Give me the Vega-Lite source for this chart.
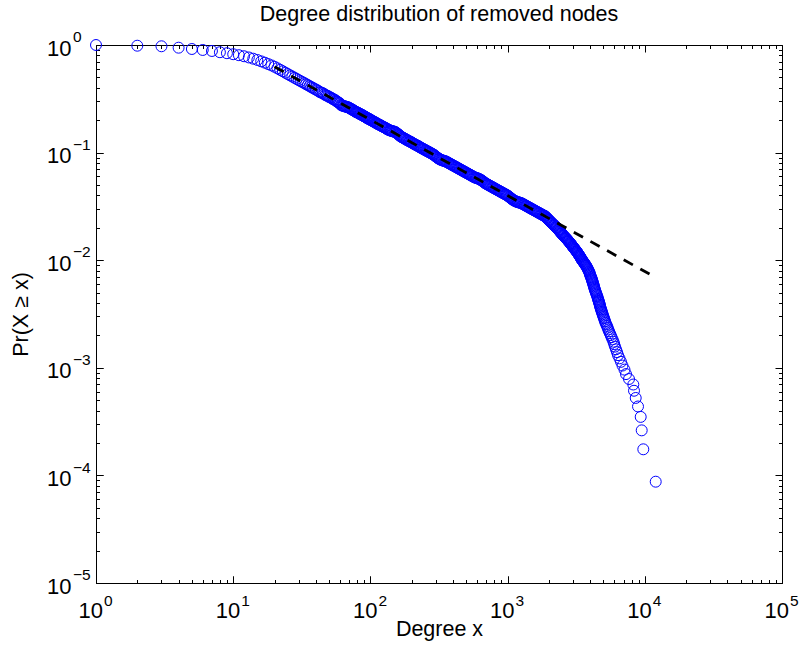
{
  "$schema": "https://vega.github.io/schema/vega-lite/v6.json",
  "width": 686,
  "height": 538,
  "autosize": {"type": "none"},
  "padding": {"left": 96, "top": 45, "right": 19, "bottom": 70},
  "background": "white",
  "title": {
    "text": "Degree distribution of removed nodes",
    "font": "Liberation Sans",
    "fontSize": 21.5,
    "fontWeight": "normal",
    "color": "black",
    "anchor": "middle",
    "frame": "group",
    "baseline": "alphabetic",
    "offset": -13
  },
  "config": {
    "font": "Liberation Sans",
    "view": {"stroke": null}
  },
  "datasets": {
    "ccdf": [
      {"degree": 1, "p": 1},
      {"degree": 2, "p": 0.985},
      {"degree": 3, "p": 0.973},
      {"degree": 4, "p": 0.944},
      {"degree": 5, "p": 0.918},
      {"degree": 6, "p": 0.899},
      {"degree": 7, "p": 0.88},
      {"degree": 8, "p": 0.857},
      {"degree": 9, "p": 0.839},
      {"degree": 10, "p": 0.821},
      {"degree": 11, "p": 0.804},
      {"degree": 12, "p": 0.786},
      {"degree": 13, "p": 0.766},
      {"degree": 14, "p": 0.746},
      {"degree": 15, "p": 0.726},
      {"degree": 16, "p": 0.705},
      {"degree": 17, "p": 0.685},
      {"degree": 18, "p": 0.665},
      {"degree": 19, "p": 0.646},
      {"degree": 20, "p": 0.628},
      {"degree": 21, "p": 0.607},
      {"degree": 22, "p": 0.588},
      {"degree": 23, "p": 0.57},
      {"degree": 24, "p": 0.553},
      {"degree": 25, "p": 0.537},
      {"degree": 26, "p": 0.522},
      {"degree": 27, "p": 0.509},
      {"degree": 28, "p": 0.496},
      {"degree": 29, "p": 0.484},
      {"degree": 30, "p": 0.472},
      {"degree": 31, "p": 0.461},
      {"degree": 32, "p": 0.451},
      {"degree": 33, "p": 0.442},
      {"degree": 34, "p": 0.432},
      {"degree": 35, "p": 0.424},
      {"degree": 36, "p": 0.415},
      {"degree": 37, "p": 0.407},
      {"degree": 38, "p": 0.4},
      {"degree": 39, "p": 0.3925},
      {"degree": 40, "p": 0.3855},
      {"degree": 41, "p": 0.3791},
      {"degree": 42, "p": 0.3715},
      {"degree": 43, "p": 0.364},
      {"degree": 44, "p": 0.3603},
      {"degree": 45, "p": 0.3567},
      {"degree": 46, "p": 0.3495},
      {"degree": 47, "p": 0.3425},
      {"degree": 48, "p": 0.339},
      {"degree": 49, "p": 0.3356},
      {"degree": 50, "p": 0.3289},
      {"degree": 51, "p": 0.3256},
      {"degree": 52, "p": 0.3223},
      {"degree": 53, "p": 0.3158},
      {"degree": 54, "p": 0.3126},
      {"degree": 55, "p": 0.3095},
      {"degree": 56, "p": 0.3033},
      {"degree": 57, "p": 0.2988},
      {"degree": 58, "p": 0.2944},
      {"degree": 59, "p": 0.2902},
      {"degree": 60, "p": 0.286},
      {"degree": 61, "p": 0.2776},
      {"degree": 62, "p": 0.2748},
      {"degree": 63, "p": 0.2721},
      {"degree": 64, "p": 0.2706},
      {"degree": 65, "p": 0.2691},
      {"degree": 66, "p": 0.2676},
      {"degree": 67, "p": 0.2661},
      {"degree": 68, "p": 0.2646},
      {"degree": 69, "p": 0.2631},
      {"degree": 70, "p": 0.2604},
      {"degree": 71, "p": 0.2578},
      {"degree": 72, "p": 0.2552},
      {"degree": 73, "p": 0.2526},
      {"degree": 74, "p": 0.2501},
      {"degree": 75, "p": 0.2476},
      {"degree": 76, "p": 0.2451},
      {"degree": 77, "p": 0.2426},
      {"degree": 78, "p": 0.2401},
      {"degree": 79, "p": 0.2377},
      {"degree": 80, "p": 0.2361},
      {"degree": 81, "p": 0.2345},
      {"degree": 82, "p": 0.2329},
      {"degree": 83, "p": 0.2306},
      {"degree": 84, "p": 0.2283},
      {"degree": 85, "p": 0.2268},
      {"degree": 86, "p": 0.2252},
      {"degree": 87, "p": 0.2237},
      {"degree": 88, "p": 0.2214},
      {"degree": 89, "p": 0.2192},
      {"degree": 90, "p": 0.2177},
      {"degree": 91, "p": 0.2163},
      {"degree": 92, "p": 0.2148},
      {"degree": 93, "p": 0.2126},
      {"degree": 94, "p": 0.2105},
      {"degree": 95, "p": 0.2091},
      {"degree": 96, "p": 0.2076},
      {"degree": 97, "p": 0.2062},
      {"degree": 98, "p": 0.2048},
      {"degree": 99, "p": 0.2035},
      {"degree": 100, "p": 0.2021},
      {"degree": 101, "p": 0.2001},
      {"degree": 103, "p": 0.198},
      {"degree": 104, "p": 0.196},
      {"degree": 106, "p": 0.194},
      {"degree": 107, "p": 0.1921},
      {"degree": 109, "p": 0.1902},
      {"degree": 110, "p": 0.1883},
      {"degree": 112, "p": 0.1863},
      {"degree": 113, "p": 0.1845},
      {"degree": 115, "p": 0.1826},
      {"degree": 117, "p": 0.1808},
      {"degree": 119, "p": 0.1789},
      {"degree": 120, "p": 0.1771},
      {"degree": 122, "p": 0.1753},
      {"degree": 124, "p": 0.1736},
      {"degree": 126, "p": 0.1718},
      {"degree": 128, "p": 0.1701},
      {"degree": 130, "p": 0.1683},
      {"degree": 131, "p": 0.1667},
      {"degree": 133, "p": 0.165},
      {"degree": 135, "p": 0.1634},
      {"degree": 137, "p": 0.1617},
      {"degree": 139, "p": 0.1608},
      {"degree": 141, "p": 0.1598},
      {"degree": 143, "p": 0.1589},
      {"degree": 145, "p": 0.158},
      {"degree": 147, "p": 0.1572},
      {"degree": 150, "p": 0.1564},
      {"degree": 152, "p": 0.1549},
      {"degree": 154, "p": 0.1533},
      {"degree": 156, "p": 0.151},
      {"degree": 159, "p": 0.1487},
      {"degree": 161, "p": 0.1466},
      {"degree": 163, "p": 0.1444},
      {"degree": 165, "p": 0.1424},
      {"degree": 168, "p": 0.1403},
      {"degree": 170, "p": 0.1389},
      {"degree": 173, "p": 0.1374},
      {"degree": 175, "p": 0.1361},
      {"degree": 178, "p": 0.1347},
      {"degree": 180, "p": 0.1334},
      {"degree": 183, "p": 0.132},
      {"degree": 185, "p": 0.1307},
      {"degree": 188, "p": 0.1293},
      {"degree": 191, "p": 0.128},
      {"degree": 194, "p": 0.1267},
      {"degree": 197, "p": 0.1255},
      {"degree": 200, "p": 0.1242},
      {"degree": 202, "p": 0.123},
      {"degree": 205, "p": 0.1217},
      {"degree": 208, "p": 0.1205},
      {"degree": 211, "p": 0.1192},
      {"degree": 214, "p": 0.118},
      {"degree": 218, "p": 0.1168},
      {"degree": 221, "p": 0.1157},
      {"degree": 224, "p": 0.1145},
      {"degree": 227, "p": 0.1134},
      {"degree": 230, "p": 0.1122},
      {"degree": 233, "p": 0.1111},
      {"degree": 237, "p": 0.1099},
      {"degree": 240, "p": 0.1088},
      {"degree": 244, "p": 0.1077},
      {"degree": 247, "p": 0.1067},
      {"degree": 251, "p": 0.1056},
      {"degree": 254, "p": 0.1046},
      {"degree": 258, "p": 0.1035},
      {"degree": 262, "p": 0.1025},
      {"degree": 266, "p": 0.1014},
      {"degree": 270, "p": 0.1004},
      {"degree": 274, "p": 0.09933},
      {"degree": 278, "p": 0.09833},
      {"degree": 282, "p": 0.09733},
      {"degree": 286, "p": 0.09636},
      {"degree": 290, "p": 0.09538},
      {"degree": 294, "p": 0.09401},
      {"degree": 298, "p": 0.09263},
      {"degree": 302, "p": 0.09129},
      {"degree": 307, "p": 0.08994},
      {"degree": 311, "p": 0.08882},
      {"degree": 316, "p": 0.08769},
      {"degree": 320, "p": 0.08681},
      {"degree": 325, "p": 0.08593},
      {"degree": 330, "p": 0.08528},
      {"degree": 335, "p": 0.08463},
      {"degree": 340, "p": 0.08416},
      {"degree": 345, "p": 0.08369},
      {"degree": 350, "p": 0.08323},
      {"degree": 355, "p": 0.08276},
      {"degree": 360, "p": 0.08193},
      {"degree": 365, "p": 0.08109},
      {"degree": 370, "p": 0.08028},
      {"degree": 376, "p": 0.07946},
      {"degree": 381, "p": 0.07867},
      {"degree": 387, "p": 0.07787},
      {"degree": 392, "p": 0.07709},
      {"degree": 398, "p": 0.0763},
      {"degree": 404, "p": 0.07554},
      {"degree": 410, "p": 0.07477},
      {"degree": 416, "p": 0.07402},
      {"degree": 422, "p": 0.07327},
      {"degree": 428, "p": 0.07254},
      {"degree": 434, "p": 0.0718},
      {"degree": 440, "p": 0.07108},
      {"degree": 447, "p": 0.07035},
      {"degree": 453, "p": 0.06965},
      {"degree": 460, "p": 0.06894},
      {"degree": 466, "p": 0.06825},
      {"degree": 473, "p": 0.06756},
      {"degree": 480, "p": 0.06688},
      {"degree": 487, "p": 0.0662},
      {"degree": 494, "p": 0.06553},
      {"degree": 501, "p": 0.06486},
      {"degree": 508, "p": 0.06422},
      {"degree": 516, "p": 0.06357},
      {"degree": 523, "p": 0.06293},
      {"degree": 531, "p": 0.06229},
      {"degree": 538, "p": 0.06167},
      {"degree": 546, "p": 0.06104},
      {"degree": 554, "p": 0.06043},
      {"degree": 562, "p": 0.05981},
      {"degree": 570, "p": 0.05921},
      {"degree": 579, "p": 0.05861},
      {"degree": 587, "p": 0.05828},
      {"degree": 596, "p": 0.05795},
      {"degree": 604, "p": 0.05762},
      {"degree": 613, "p": 0.05729},
      {"degree": 622, "p": 0.05672},
      {"degree": 631, "p": 0.05614},
      {"degree": 640, "p": 0.05558},
      {"degree": 649, "p": 0.05501},
      {"degree": 658, "p": 0.05422},
      {"degree": 668, "p": 0.05343},
      {"degree": 678, "p": 0.05266},
      {"degree": 688, "p": 0.05189},
      {"degree": 698, "p": 0.05137},
      {"degree": 708, "p": 0.05085},
      {"degree": 718, "p": 0.05034},
      {"degree": 729, "p": 0.04983},
      {"degree": 739, "p": 0.04933},
      {"degree": 750, "p": 0.04883},
      {"degree": 761, "p": 0.04834},
      {"degree": 772, "p": 0.04785},
      {"degree": 783, "p": 0.04737},
      {"degree": 794, "p": 0.04689},
      {"degree": 805, "p": 0.04642},
      {"degree": 817, "p": 0.04594},
      {"degree": 829, "p": 0.04548},
      {"degree": 841, "p": 0.04502},
      {"degree": 853, "p": 0.04457},
      {"degree": 866, "p": 0.04412},
      {"degree": 878, "p": 0.04368},
      {"degree": 891, "p": 0.04323},
      {"degree": 904, "p": 0.0428},
      {"degree": 917, "p": 0.04236},
      {"degree": 930, "p": 0.04194},
      {"degree": 944, "p": 0.04151},
      {"degree": 958, "p": 0.0411},
      {"degree": 972, "p": 0.04068},
      {"degree": 986, "p": 0.04027},
      {"degree": 1000, "p": 0.03986},
      {"degree": 1014, "p": 0.03929},
      {"degree": 1029, "p": 0.03871},
      {"degree": 1044, "p": 0.03815},
      {"degree": 1059, "p": 0.03759},
      {"degree": 1074, "p": 0.03704},
      {"degree": 1090, "p": 0.03649},
      {"degree": 1106, "p": 0.03613},
      {"degree": 1122, "p": 0.03576},
      {"degree": 1138, "p": 0.0354},
      {"degree": 1155, "p": 0.03504},
      {"degree": 1172, "p": 0.03485},
      {"degree": 1189, "p": 0.03465},
      {"degree": 1206, "p": 0.03446},
      {"degree": 1223, "p": 0.03427},
      {"degree": 1241, "p": 0.03408},
      {"degree": 1259, "p": 0.03389},
      {"degree": 1277, "p": 0.03355},
      {"degree": 1296, "p": 0.03321},
      {"degree": 1315, "p": 0.03288},
      {"degree": 1334, "p": 0.03254},
      {"degree": 1353, "p": 0.03222},
      {"degree": 1372, "p": 0.03189},
      {"degree": 1392, "p": 0.03157},
      {"degree": 1413, "p": 0.03125},
      {"degree": 1433, "p": 0.03094},
      {"degree": 1454, "p": 0.03062},
      {"degree": 1475, "p": 0.03031},
      {"degree": 1496, "p": 0.03},
      {"degree": 1518, "p": 0.0297},
      {"degree": 1540, "p": 0.0294},
      {"degree": 1562, "p": 0.02911},
      {"degree": 1585, "p": 0.02881},
      {"degree": 1608, "p": 0.02852},
      {"degree": 1631, "p": 0.02823},
      {"degree": 1655, "p": 0.02795},
      {"degree": 1679, "p": 0.02766},
      {"degree": 1703, "p": 0.02739},
      {"degree": 1728, "p": 0.02711},
      {"degree": 1753, "p": 0.02684},
      {"degree": 1778, "p": 0.02656},
      {"degree": 1804, "p": 0.0263},
      {"degree": 1830, "p": 0.02603},
      {"degree": 1848, "p": 0.02591},
      {"degree": 1867, "p": 0.02579},
      {"degree": 1887, "p": 0.02544},
      {"degree": 1908, "p": 0.02509},
      {"degree": 1929, "p": 0.02474},
      {"degree": 1950, "p": 0.02439},
      {"degree": 1972, "p": 0.02404},
      {"degree": 1994, "p": 0.02369},
      {"degree": 2014, "p": 0.02339},
      {"degree": 2034, "p": 0.02308},
      {"degree": 2058, "p": 0.02273},
      {"degree": 2082, "p": 0.02238},
      {"degree": 2107, "p": 0.02208},
      {"degree": 2132, "p": 0.02177},
      {"degree": 2157, "p": 0.02146},
      {"degree": 2182, "p": 0.02115},
      {"degree": 2208, "p": 0.02085},
      {"degree": 2234, "p": 0.02054},
      {"degree": 2257, "p": 0.02028},
      {"degree": 2280, "p": 0.02002},
      {"degree": 2305, "p": 0.01972},
      {"degree": 2330, "p": 0.01941},
      {"degree": 2352, "p": 0.01915},
      {"degree": 2374, "p": 0.01888},
      {"degree": 2396, "p": 0.01862},
      {"degree": 2418, "p": 0.01836},
      {"degree": 2440, "p": 0.0181},
      {"degree": 2463, "p": 0.01783},
      {"degree": 2488, "p": 0.01757},
      {"degree": 2513, "p": 0.01731},
      {"degree": 2536, "p": 0.01709},
      {"degree": 2560, "p": 0.01687},
      {"degree": 2590, "p": 0.01661},
      {"degree": 2621, "p": 0.01635},
      {"degree": 2647, "p": 0.01613},
      {"degree": 2674, "p": 0.01591},
      {"degree": 2701, "p": 0.01569},
      {"degree": 2729, "p": 0.01547},
      {"degree": 2754, "p": 0.01525},
      {"degree": 2779, "p": 0.01503},
      {"degree": 2807, "p": 0.01482},
      {"degree": 2836, "p": 0.0146},
      {"degree": 2862, "p": 0.01438},
      {"degree": 2888, "p": 0.01416},
      {"degree": 2910, "p": 0.01399},
      {"degree": 2933, "p": 0.01381},
      {"degree": 2960, "p": 0.01359},
      {"degree": 2987, "p": 0.01337},
      {"degree": 3012, "p": 0.0132},
      {"degree": 3037, "p": 0.01302},
      {"degree": 3063, "p": 0.01285},
      {"degree": 3089, "p": 0.01267},
      {"degree": 3115, "p": 0.0125},
      {"degree": 3141, "p": 0.01233},
      {"degree": 3167, "p": 0.01216},
      {"degree": 3194, "p": 0.01198},
      {"degree": 3221, "p": 0.01181},
      {"degree": 3248, "p": 0.01163},
      {"degree": 3272, "p": 0.01146},
      {"degree": 3297, "p": 0.01128},
      {"degree": 3325, "p": 0.01111},
      {"degree": 3353, "p": 0.01093},
      {"degree": 3373, "p": 0.0108},
      {"degree": 3393, "p": 0.01066},
      {"degree": 3418, "p": 0.01049},
      {"degree": 3444, "p": 0.01031},
      {"degree": 3464, "p": 0.01018},
      {"degree": 3485, "p": 0.01005},
      {"degree": 3511, "p": 0.00992},
      {"degree": 3538, "p": 0.00979},
      {"degree": 3565, "p": 0.009659},
      {"degree": 3592, "p": 0.009528},
      {"degree": 3619, "p": 0.009397},
      {"degree": 3647, "p": 0.009266},
      {"degree": 3674, "p": 0.009135},
      {"degree": 3702, "p": 0.009003},
      {"degree": 3730, "p": 0.008872},
      {"degree": 3759, "p": 0.008741},
      {"degree": 3790, "p": 0.008567},
      {"degree": 3822, "p": 0.008392},
      {"degree": 3854, "p": 0.008217},
      {"degree": 3886, "p": 0.008042},
      {"degree": 3919, "p": 0.007867},
      {"degree": 3952, "p": 0.007692},
      {"degree": 3969, "p": 0.007518},
      {"degree": 3986, "p": 0.007343},
      {"degree": 4020, "p": 0.007168},
      {"degree": 4054, "p": 0.006993},
      {"degree": 4075, "p": 0.006862},
      {"degree": 4095, "p": 0.006731},
      {"degree": 4116, "p": 0.0066},
      {"degree": 4136, "p": 0.006469},
      {"degree": 4157, "p": 0.006338},
      {"degree": 4178, "p": 0.006206},
      {"degree": 4200, "p": 0.006075},
      {"degree": 4221, "p": 0.005944},
      {"degree": 4242, "p": 0.005813},
      {"degree": 4263, "p": 0.005682},
      {"degree": 4285, "p": 0.005551},
      {"degree": 4306, "p": 0.00542},
      {"degree": 4335, "p": 0.005289},
      {"degree": 4364, "p": 0.005157},
      {"degree": 4394, "p": 0.005026},
      {"degree": 4424, "p": 0.004895},
      {"degree": 4462, "p": 0.004764},
      {"degree": 4499, "p": 0.004633},
      {"degree": 4530, "p": 0.004502},
      {"degree": 4560, "p": 0.004371},
      {"degree": 4583, "p": 0.004284},
      {"degree": 4606, "p": 0.004196},
      {"degree": 4629, "p": 0.004109},
      {"degree": 4652, "p": 0.004021},
      {"degree": 4676, "p": 0.003934},
      {"degree": 4699, "p": 0.003846},
      {"degree": 4719, "p": 0.003759},
      {"degree": 4739, "p": 0.003671},
      {"degree": 4767, "p": 0.003584},
      {"degree": 4795, "p": 0.003497},
      {"degree": 4828, "p": 0.00341},
      {"degree": 4860, "p": 0.003322},
      {"degree": 4893, "p": 0.003235},
      {"degree": 4925, "p": 0.003147},
      {"degree": 4963, "p": 0.00306},
      {"degree": 5000, "p": 0.002972},
      {"degree": 5043, "p": 0.002885},
      {"degree": 5085, "p": 0.002797},
      {"degree": 5128, "p": 0.00271},
      {"degree": 5171, "p": 0.002622},
      {"degree": 5232, "p": 0.002535},
      {"degree": 5303, "p": 0.002448},
      {"degree": 5357, "p": 0.00236},
      {"degree": 5420, "p": 0.002273},
      {"degree": 5484, "p": 0.002185},
      {"degree": 5558, "p": 0.002098},
      {"degree": 5643, "p": 0.002011},
      {"degree": 5719, "p": 0.001923},
      {"degree": 5816, "p": 0.001836},
      {"degree": 5914, "p": 0.001748},
      {"degree": 5984, "p": 0.001661},
      {"degree": 6065, "p": 0.001573},
      {"degree": 6168, "p": 0.001486},
      {"degree": 6272, "p": 0.001399},
      {"degree": 6378, "p": 0.001311},
      {"degree": 6540, "p": 0.001224},
      {"degree": 6706, "p": 0.001136},
      {"degree": 6878, "p": 0.001049},
      {"degree": 7112, "p": 0.0009615},
      {"degree": 7295, "p": 0.0008741},
      {"degree": 7672, "p": 0.0007867},
      {"degree": 8246, "p": 0.0006993},
      {"degree": 8344, "p": 0.0006119},
      {"degree": 8586, "p": 0.0005245},
      {"degree": 8923, "p": 0.0004371},
      {"degree": 9335, "p": 0.0003497},
      {"degree": 9493, "p": 0.0002622},
      {"degree": 9752, "p": 0.0001748},
      {"degree": 12010, "p": 0.0000874}
    ],
    "fit": [
      {"degree": 20, "p": 0.628},
      {"degree": 12010, "p": 0.00691}
    ]
  },
  "resolve": {
    "scale": {"x": "shared", "y": "shared"},
    "axis": {"x": "independent", "y": "independent"}
  },
  "layer": [
    {
      "data": {"name": "ccdf"},
      "mark": {
        "type": "point",
        "shape": "circle",
        "filled": false,
        "stroke": "#0000ff",
        "strokeWidth": 1,
        "size": 120,
        "opacity": 1
      },
      "encoding": {
        "x": {
          "field": "degree",
          "type": "quantitative",
          "scale": {"type": "log", "domain": [1, 100000], "nice": false},
          "axis": {
            "orient": "bottom",
            "values": [1, 1.0001, 2, 3, 4, 5, 6, 7, 8, 9, 10, 10.001, 20, 30, 40, 50, 60, 70, 80, 90, 100, 100.01, 200, 300, 400, 500, 600, 700, 800, 900, 1000, 1000.1, 2000, 3000, 4000, 5000, 6000, 7000, 8000, 9000, 10000, 10001, 20000, 30000, 40000, 50000, 60000, 70000, 80000, 90000, 99990, 100000],
            "labelExpr": "abs(log(datum.value)/LN10 - round(log(datum.value)/LN10)) < 1e-9 ? '10' : (abs(log(datum.value)/LN10 - round(log(datum.value)/LN10)) < 0.001 ? format(round(log(datum.value)/LN10), 'd') : '')",
            "labelOverlap": false,
            "labelFlush": false,
            "labelBound": false,
            "grid": false,
            "domainColor": "black",
            "domainWidth": 1,
            "tickColor": "black",
            "tickWidth": 1,
            "tickSize": {"condition": {"test": "abs(log(datum.value)/LN10 - round(log(datum.value)/LN10)) < 0.001", "value": -7}, "value": -3.5},
            "labelColor": "black",
            "labelFont": "Liberation Sans",
            "labelBaseline": "alphabetic",
            "labelFontSize": {"condition": {"test": "abs(log(datum.value)/LN10 - round(log(datum.value)/LN10)) > 1e-9 && abs(log(datum.value)/LN10 - round(log(datum.value)/LN10)) < 0.001", "value": 15.5}, "value": 22},
            "labelAlign": {"condition": {"test": "abs(log(datum.value)/LN10 - round(log(datum.value)/LN10)) > 1e-9 && abs(log(datum.value)/LN10 - round(log(datum.value)/LN10)) < 0.001", "value": "left"}, "value": "right"},
            "labelPadding": {"condition": {"test": "abs(log(datum.value)/LN10 - round(log(datum.value)/LN10)) > 1e-9 && abs(log(datum.value)/LN10 - round(log(datum.value)/LN10)) < 0.001", "value": 29}, "value": 41.5},
            "labelOffset": {"condition": {"test": "abs(log(datum.value)/LN10 - round(log(datum.value)/LN10)) > 1e-9 && abs(log(datum.value)/LN10 - round(log(datum.value)/LN10)) < 0.001", "value": 7.5}, "value": 6.5},
            "title": "Degree x",
            "titleFont": "Liberation Sans",
            "titleFontSize": 21.5,
            "titleFontWeight": "normal",
            "titleColor": "black",
            "titlePadding": -7
          }
        },
        "y": {
          "field": "p",
          "type": "quantitative",
          "scale": {"type": "log", "domain": [0.00001, 1], "nice": false},
          "axis": {
            "orient": "left",
            "values": [0.00001, 0.000010001, 0.00002, 0.00003, 0.00004, 0.00005, 0.00006, 0.00007, 0.00008, 0.00009, 0.0001, 0.000099990, 0.0002, 0.0003, 0.0004, 0.0005, 0.0006, 0.0007, 0.0008, 0.0009, 0.001, 0.00099990, 0.002, 0.003, 0.004, 0.005, 0.006, 0.007, 0.008, 0.009, 0.01, 0.0099990, 0.02, 0.03, 0.04, 0.05, 0.06, 0.07, 0.08, 0.09, 0.1, 0.099990, 0.2, 0.3, 0.4, 0.5, 0.6, 0.7, 0.8, 0.9, 1, 0.9999],
            "labelExpr": "abs(log(datum.value)/LN10 - round(log(datum.value)/LN10)) < 1e-9 ? '10' : (abs(log(datum.value)/LN10 - round(log(datum.value)/LN10)) < 0.001 ? format(round(log(datum.value)/LN10), 'd') : '')",
            "labelOverlap": false,
            "labelFlush": false,
            "labelBound": false,
            "grid": false,
            "domainColor": "black",
            "domainWidth": 1,
            "tickColor": "black",
            "tickWidth": 1,
            "tickSize": {"condition": {"test": "abs(log(datum.value)/LN10 - round(log(datum.value)/LN10)) < 0.001", "value": -7}, "value": -3.5},
            "labelColor": "black",
            "labelFont": "Liberation Sans",
            "labelBaseline": "alphabetic",
            "labelFontSize": {"condition": {"test": "abs(log(datum.value)/LN10 - round(log(datum.value)/LN10)) > 1e-9 && abs(log(datum.value)/LN10 - round(log(datum.value)/LN10)) < 0.001", "value": 15.5}, "value": 22},
            "labelAlign": {"condition": {"test": "abs(log(datum.value)/LN10 - round(log(datum.value)/LN10)) > 1e-9 && abs(log(datum.value)/LN10 - round(log(datum.value)/LN10)) < 0.001", "value": "left"}, "value": "right"},
            "labelPadding": {"condition": {"test": "abs(log(datum.value)/LN10 - round(log(datum.value)/LN10)) > 1e-9 && abs(log(datum.value)/LN10 - round(log(datum.value)/LN10)) < 0.001", "value": 30.5}, "value": 32},
            "labelOffset": {"condition": {"test": "abs(log(datum.value)/LN10 - round(log(datum.value)/LN10)) > 1e-9 && abs(log(datum.value)/LN10 - round(log(datum.value)/LN10)) < 0.001", "value": -3.3}, "value": 10},
            "title": "Pr(X ≥ x)",
            "titleFont": "Liberation Sans",
            "titleFontSize": 21.5,
            "titleFontWeight": "normal",
            "titleColor": "black",
            "titlePadding": 14
          }
        }
      }
    },
    {
      "data": {"name": "fit"},
      "mark": {
        "type": "line",
        "stroke": "black",
        "strokeWidth": 2.8,
        "strokeDash": [10.5, 8.5],
        "strokeCap": "butt"
      },
      "encoding": {
        "x": {
          "field": "degree",
          "type": "quantitative",
          "scale": {"type": "log", "domain": [1, 100000], "nice": false},
          "axis": {
            "orient": "top",
            "values": [1, 2, 3, 4, 5, 6, 7, 8, 9, 10, 20, 30, 40, 50, 60, 70, 80, 90, 100, 200, 300, 400, 500, 600, 700, 800, 900, 1000, 2000, 3000, 4000, 5000, 6000, 7000, 8000, 9000, 10000, 20000, 30000, 40000, 50000, 60000, 70000, 80000, 90000, 100000],
            "labels": false,
            "grid": false,
            "title": null,
            "domainColor": "black",
            "domainWidth": 1,
            "tickColor": "black",
            "tickWidth": 1,
            "tickSize": {"condition": {"test": "abs(log(datum.value)/LN10 - round(log(datum.value)/LN10)) < 0.001", "value": -7}, "value": -3.5}
          }
        },
        "y": {
          "field": "p",
          "type": "quantitative",
          "scale": {"type": "log", "domain": [0.00001, 1], "nice": false},
          "axis": {
            "orient": "right",
            "values": [0.00001, 0.00002, 0.00003, 0.00004, 0.00005, 0.00006, 0.00007, 0.00008, 0.00009, 0.0001, 0.0002, 0.0003, 0.0004, 0.0005, 0.0006, 0.0007, 0.0008, 0.0009, 0.001, 0.002, 0.003, 0.004, 0.005, 0.006, 0.007, 0.008, 0.009, 0.01, 0.02, 0.03, 0.04, 0.05, 0.06, 0.07, 0.08, 0.09, 0.1, 0.2, 0.3, 0.4, 0.5, 0.6, 0.7, 0.8, 0.9, 1],
            "labels": false,
            "grid": false,
            "title": null,
            "domainColor": "black",
            "domainWidth": 1,
            "tickColor": "black",
            "tickWidth": 1,
            "tickSize": {"condition": {"test": "abs(log(datum.value)/LN10 - round(log(datum.value)/LN10)) < 0.001", "value": -7}, "value": -3.5}
          }
        }
      }
    }
  ]
}
